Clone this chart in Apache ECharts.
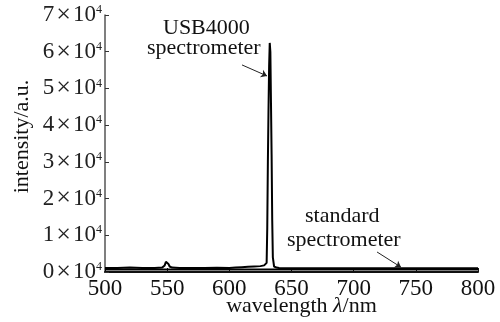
<!DOCTYPE html>
<html lang="en">
<head>
    <meta charset="UTF-8">
    <script type="text/javascript" src="https://cdn.jsdelivr.net/npm/echarts@6/dist/echarts.min.js"></script>
    <style>
        body { margin: 0; background: #fff; }
    </style>
</head>
<body>
    <div id="spectrumChart" style="width: 500px;height: 322px;"></div>
</body>

<script>
    // USB4000 spectrometer
    var usbWavelength = [500, 510, 520, 530, 540, 546, 548, 549, 550, 551, 552, 554, 560, 570, 580, 590, 600, 605, 610, 615, 620, 625, 628, 630, 630.5, 631, 631.5, 632, 632.5, 633, 633.5, 634, 634.5, 635, 636, 638, 640, 650, 660, 680, 700, 720, 740, 760, 780, 800];
    var usbIntensity = [1100, 1100, 1200, 1100, 1100, 1200, 1800, 2800, 3000, 2200, 1500, 1200, 1100, 1100, 1100, 1150, 1100, 1200, 1300, 1400, 1500, 1600, 1800, 2500, 12000, 30000, 44000, 56000, 62400, 60000, 46000, 32000, 14000, 4000, 1500, 1200, 1100, 1050, 1000, 1000, 1000, 1000, 1000, 1000, 1000, 1000];
    // standard spectrometer
    var stdWavelength = [500, 550, 600, 650, 700, 750, 800];
    var stdIntensity = [700, 700, 700, 700, 700, 700, 700];
    // y tick labels (×10^4)
    var yTickMantissa = ["0", "1", "2", "3", "4", "5", "6", "7"];

    var serif = "Liberation Serif";

    function pairs(xs, ys) {
        var out = [];
        for (var i = 0; i < xs.length; i++) {
            out.push([xs[i], ys[i]]);
        }
        return out;
    }

    var spectrumChart = echarts.init(document.getElementById("spectrumChart"));
    var option = {
        animation: false,
        grid: { left: 105, right: 22, top: 15, bottom: 50, outerBoundsMode: "none", containLabel: false },
        xAxis: {
            type: "value",
            min: 500, max: 800, interval: 50,
            name: "wavelength {i|λ}/nm",
            nameLocation: "middle",
            nameGap: 23,
            nameMoveOverlap: false,
            nameTextStyle: {
                fontFamily: serif, fontSize: 22, color: "#111", padding: [0, 0, 0, 20],
                rich: { i: { fontFamily: serif, fontSize: 22, fontStyle: "italic", color: "#111" } }
            },
            axisLine: { lineStyle: { color: "#111", width: 2 } },
            axisTick: { inside: true, length: 4, lineStyle: { color: "#111" } },
            axisLabel: { fontFamily: serif, fontSize: 23, color: "#111", margin: 5 },
            splitLine: { show: false }
        },
        yAxis: {
            type: "value",
            min: 0, max: 70000, interval: 10000,
            name: "intensity/a.u.",
            nameLocation: "middle",
            nameGap: 72,
            nameMoveOverlap: false,
            nameTextStyle: { fontFamily: serif, fontSize: 22, color: "#111", padding: [0, 0, 0, 14] },
            axisLine: { show: true, lineStyle: { color: "#555", width: 1.5 } },
            axisTick: { inside: true, length: 4, lineStyle: { color: "#333" } },
            axisLabel: {
                margin: 3,
                formatter: function (v) {
                    return "{a|" + yTickMantissa[Math.round(v / 10000)] + "}{x|×}{a|10}{b|4}";
                },
                rich: {
                    a: { fontFamily: serif, fontSize: 23, color: "#222", lineHeight: 22 },
                    x: { fontFamily: serif, fontSize: 26, color: "#222", lineHeight: 22, padding: [0, 2, 0, 2] },
                    b: { fontFamily: serif, fontSize: 12, color: "#222", verticalAlign: "top", lineHeight: 22 }
                }
            },
            splitLine: { show: false }
        },
        series: [
            {
                name: "standard spectrometer",
                type: "line",
                data: pairs(stdWavelength, stdIntensity),
                showSymbol: false,
                lineStyle: { color: "#000", width: 2 }
            },
            {
                name: "USB4000 spectrometer",
                type: "line",
                data: pairs(usbWavelength, usbIntensity),
                showSymbol: false,
                lineStyle: { color: "#000", width: 2 },
                markLine: {
                    silent: true,
                    symbol: ["none", "arrow"],
                    symbolSize: 6,
                    label: { show: false },
                    lineStyle: { color: "#222", width: 1, type: "solid" },
                    data: [
                        [{ coord: [610.2, 56400] }, { coord: [630.3, 53400] }],
                        [{ coord: [718.8, 5450] }, { coord: [738.1, 1300] }]
                    ]
                }
            }
        ],
        graphic: [
            { type: "text", left: 163, top: 17, style: { text: "USB4000", font: "22px " + serif, fill: "#111" } },
            { type: "text", left: 147, top: 37, style: { text: "spectrometer", font: "22px " + serif, fill: "#111" } },
            { type: "text", left: 305, top: 205, style: { text: "standard", font: "22px " + serif, fill: "#111" } },
            { type: "text", left: 287, top: 229, style: { text: "spectrometer", font: "22px " + serif, fill: "#111" } }
        ]
    };
    spectrumChart.setOption(option);
</script>
</html>
